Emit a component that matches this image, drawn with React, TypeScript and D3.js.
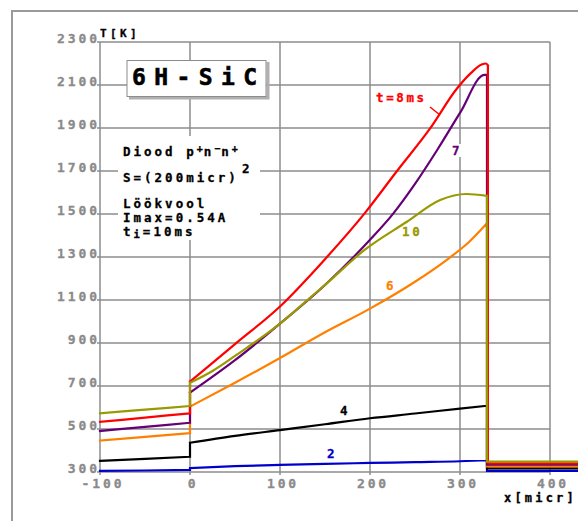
import React, { useEffect, useRef } from "react";
import * as d3 from "d3";

const W = 578;
const H = 521;

// axis ticks
const xTicks = [-100, 0, 100, 200, 300, 400];
const yTicks = [300, 500, 700, 900, 1100, 1300, 1500, 1700, 1900, 2100, 2300];

// temperature profiles T(x) for different times (jump at x=0, drop at x=330)
const x2 = [-100, -50, 0, 0, 50, 100, 150, 200, 250, 300, 330, 330, 431];
const t2 = [305, 307, 310, 318, 327, 333, 338, 342, 346, 350, 355, 305, 305];

const x4 = [-100, -50, 0, 0, 50, 100, 150, 200, 250, 300, 330, 330, 431];
const t4 = [352, 361, 371, 436, 468, 495, 522, 550, 572, 595, 608, 317, 317];

const x6 = [-100, -50, 0, 0, 50, 100, 150, 200, 250, 285, 310, 330, 330, 431];
const t6 = [446, 463, 481, 604, 715, 830, 950, 1060, 1185, 1286, 1370, 1457, 326, 326];

const x7 = [-100, -50, 0, 0, 50, 100, 150, 200, 226, 250, 275, 300, 327, 330, 330, 431];
const t7 = [491, 510, 529, 669, 820, 990, 1170, 1380, 1503, 1640, 1800, 1970, 2147, 2147, 334, 334];

const x8 = [-100, -50, 0, 0, 50, 100, 150, 194, 230, 267, 296, 312, 324, 329, 331, 331, 431];
const t8 = [533, 553, 573, 720, 895, 1070, 1290, 1503, 1700, 1899, 2080, 2155, 2195, 2200, 2190, 340, 340];

const x10 = [-100, -50, 0, 0, 25, 50, 100, 133, 150, 194, 241, 278, 307, 330, 330, 431];
const t10 = [573, 590, 607, 715, 770, 840, 990, 1109, 1170, 1333, 1464, 1565, 1593, 1584, 348, 348];

const series = [
  { xs: x2, ts: t2, color: "#0000cc" },
  { xs: x4, ts: t4, color: "#000000" },
  { xs: x6, ts: t6, color: "#ff8000" },
  { xs: x7, ts: t7, color: "#660077" },
  { xs: x8, ts: t8, color: "#ff0000" },
  { xs: x10, ts: t10, color: "#999900" },
];

const FONT = "'DejaVu Sans Mono', monospace";

const App = () => {
  const ref = useRef<SVGSVGElement>(null);

  useEffect(() => {
    const svg = d3.select(ref.current);
    svg.selectAll("*").remove();

    const x = d3.scaleLinear().domain([-100, 400]).range([100, 550]);
    const y = d3.scaleLinear().domain([300, 2300]).range([472, 42]);

    // outer frame
    svg.append("rect").attr("width", W).attr("height", H).attr("fill", "#fff");
    svg
      .append("path")
      .attr("d", `M12,${H + 5}V11H${W + 5}`)
      .attr("fill", "none")
      .attr("stroke", "#9a9a9a")
      .attr("stroke-width", 2);

    const grid = svg.append("g").attr("stroke", "#8c8c8c").attr("stroke-width", 1.5);
    yTicks.forEach((t) => {
      grid.append("line").attr("x1", 97).attr("x2", x(400)).attr("y1", y(t)).attr("y2", y(t));
    });
    xTicks.forEach((t) => {
      grid.append("line").attr("x1", x(t)).attr("x2", x(t)).attr("y1", y(2300)).attr("y2", 475);
    });

    // tick labels
    const tl = svg
      .append("g")
      .attr("font-family", FONT)
      .attr("font-weight", "bold")
      .attr("font-size", 13)
      .attr("fill", "#8a8a8a")
      .attr("stroke", "#8a8a8a")
      .attr("stroke-width", 0.3)
      .attr("letter-spacing", 2.9);
    yTicks.forEach((t) => {
      tl.append("text")
        .attr("x", 100)
        .attr("y", y(t) + 1)
        .attr("text-anchor", "end")
        .text(t);
    });
    xTicks.forEach((t) => {
      tl.append("text")
        .attr("x", x(t) + 3)
        .attr("y", 488)
        .attr("text-anchor", "middle")
        .text(t);
    });

    const lab = svg
      .append("g")
      .attr("font-family", FONT)
      .attr("font-weight", "bold")
      .attr("fill", "#000")
      .attr("stroke", "#000")
      .attr("stroke-width", 0.3);
    lab.append("text").attr("x", 100).attr("y", 37).attr("font-size", 11).attr("letter-spacing", 3.4).text("T[K]");
    lab.append("text").attr("x", 504).attr("y", 502).attr("font-size", 12).attr("letter-spacing", 3.2).text("x[micr]");

    // annotation block background
    svg.append("rect").attr("x", 118).attr("y", 136).attr("width", 142).attr("height", 104).attr("fill", "#fff");

    const ann = svg
      .append("g")
      .attr("font-family", FONT)
      .attr("font-weight", "bold")
      .attr("font-size", 12.5)
      .attr("fill", "#000")
      .attr("stroke", "#000")
      .attr("stroke-width", 0.3)
      .attr("letter-spacing", 3);
    const l1 = ann.append("text").attr("x", 123).attr("y", 156);
    l1.append("tspan").text("Diood p");
    l1.append("tspan").attr("dy", -4).attr("font-size", 10).attr("letter-spacing", 1).text("+");
    l1.append("tspan").attr("dy", 4).text("n");
    l1.append("tspan").attr("dy", -4).attr("font-size", 10).attr("letter-spacing", 1).text("−");
    l1.append("tspan").attr("dy", 4).text("n");
    l1.append("tspan").attr("dy", -4).attr("font-size", 10).attr("letter-spacing", 1).text("+");
    ann.append("text").attr("x", 123).attr("y", 182).text("S=(200micr)");
    ann.append("text").attr("x", 242).attr("y", 173).text("2");
    ann.append("text").attr("x", 123).attr("y", 208).text("Löökvool");
    ann.append("text").attr("x", 123).attr("y", 222).text("Imax=0.54A");
    const l5 = ann.append("text").attr("x", 123).attr("y", 236);
    l5.append("tspan").text("t");
    l5.append("tspan").attr("dy", 2).attr("font-size", 10.5).text("i");
    l5.append("tspan").attr("dy", -2).text("=10ms");

    // title box
    svg
      .append("path")
      .attr("d", "M129,98H268V62")
      .attr("fill", "none")
      .attr("stroke", "#b0b0b0")
      .attr("stroke-width", 3);
    svg
      .append("rect")
      .attr("x", 127)
      .attr("y", 60.5)
      .attr("width", 139)
      .attr("height", 36)
      .attr("fill", "#fff")
      .attr("stroke", "#8c8c8c")
      .attr("stroke-width", 1);
    svg
      .append("text")
      .attr("x", 132)
      .attr("y", 85)
      .attr("font-family", FONT)
      .attr("font-weight", "bold")
      .attr("font-size", 23)
      .attr("stroke", "#000")
      .attr("stroke-width", 0.6)
      .attr("textLength", 125)
      .attr("lengthAdjust", "spacing")
      .text("6H-SiC");

    // curve labels with white backgrounds
    const curveLabels = [
      { text: "t=8ms", x: 376, y: 102, color: "#ff0000", w: 52 },
      { text: "7", x: 452, y: 155, color: "#660077", w: 10 },
      { text: "10", x: 402, y: 236, color: "#999900", w: 22 },
      { text: "6", x: 386, y: 290, color: "#ff8000", w: 10 },
      { text: "4", x: 340, y: 415, color: "#000000", w: 11 },
      { text: "2", x: 327, y: 458, color: "#0000cc", w: 10 },
    ];
    curveLabels.forEach((d) => {
      svg.append("rect").attr("x", d.x - 1).attr("y", d.y - 11).attr("width", d.w + 2).attr("height", 13).attr("fill", "#fff");
      svg
        .append("text")
        .attr("x", d.x)
        .attr("y", d.y)
        .attr("font-family", FONT)
        .attr("font-weight", "bold")
        .attr("font-size", 12.5)
        .attr("letter-spacing", 2.6)
        .attr("fill", d.color)
        .attr("stroke", d.color)
        .attr("stroke-width", 0.3)
        .text(d.text);
    });
    svg
      .append("line")
      .attr("x1", 430)
      .attr("y1", 107)
      .attr("x2", 440)
      .attr("y2", 115)
      .attr("stroke", "#ff0000")
      .attr("stroke-width", 1.5);

    // curves: smooth pieces between the jumps, straight vertical jumps
    const smooth = d3
      .line<[number, number]>()
      .x((d) => x(d[0]))
      .y((d) => y(d[1]))
      .curve(d3.curveMonotoneX);
    series.forEach((s) => {
      const pts = s.xs.map((v, i) => [v, s.ts[i]] as [number, number]);
      const pieces: [number, number][][] = [[pts[0]]];
      for (let i = 1; i < pts.length; i++) {
        if (pts[i][0] === pts[i - 1][0]) pieces.push([pts[i]]);
        else pieces[pieces.length - 1].push(pts[i]);
      }
      let d = "";
      pieces.forEach((p, k) => {
        if (p.length > 1) d += smooth(p);
        if (k < pieces.length - 1) {
          const a = p[p.length - 1];
          const b = pieces[k + 1][0];
          d += `M${x(a[0])},${y(a[1])}L${x(b[0])},${y(b[1])}`;
        }
      });
      svg
        .append("path")
        .attr("d", d)
        .attr("fill", "none")
        .attr("stroke", s.color)
        .attr("stroke-width", 2.2)
        .attr("stroke-linecap", "square");
    });
  });

  return (
    <svg
      ref={ref}
      width={W}
      height={H}
      style={{ position: "absolute", left: 0, top: 0 }}
    />
  );
};

export default App;
